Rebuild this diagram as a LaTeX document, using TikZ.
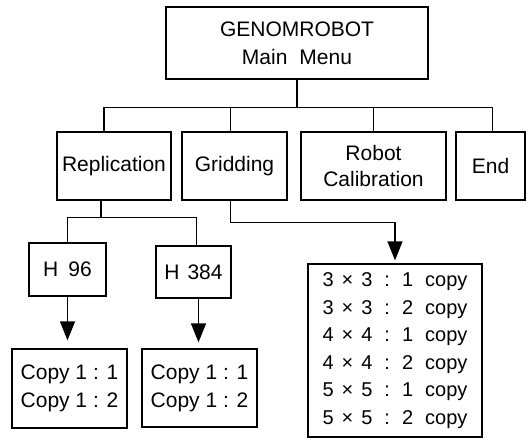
\documentclass[tikz,border=0pt]{standalone}
\usepackage{fontspec}
\setmainfont{Liberation Sans}
\usetikzlibrary{arrows.meta, positioning, calc}

\newcommand{\gridrow}[2]{#1\hspace{8pt}×\hspace{8pt}#1\hspace{12pt}:\hspace{12pt}#2\hspace{12pt}copy}

\begin{document}
\begin{tikzpicture}[
        x=1pt, y=-1pt,
        box/.style={draw, line width=1.3pt, align=center, inner sep=0pt, font=\fontsize{21}{28}\selectfont},
        link/.style={line width=1.3pt},
        arrow/.style={link, -{Triangle[length=19pt, width=15pt]}}
    ]
    \useasboundingbox (0,0) rectangle (532,439);
    % menu levels
    \node[box, minimum width=262pt, minimum height=72pt] (main) at (297,43) {GENOMROBOT\\Main\hspace{12pt}Menu};
    \node[box, minimum width=114pt, minimum height=68pt] (rep) at (114,166) {Replication};
    \node[box, minimum width=105pt, minimum height=68pt] (gridding) at (234.5,166) {Gridding};
    \node[box, minimum width=145pt, minimum height=68pt, font=\fontsize{21}{26}\selectfont] (robot) at (373.5,166) {Robot\\Calibration};
    \node[box, minimum width=69pt, minimum height=68pt] (endbox) at (490.5,166) {End};
    % replication plates
    \node[box, minimum width=77pt, minimum height=53pt] (h96) at (67.5,269.5) {H\hspace{10pt}96};
    \node[box, minimum width=75pt, minimum height=52pt] (h384) at (193.5,272) {H\hspace{8pt}384};
    \node[box, minimum width=115pt, minimum height=79pt] (copyA) at (69.5,388.5) {Copy 1 : 1\\Copy 1 : 2};
    \node[box, minimum width=115pt, minimum height=78pt] (copyB) at (199.5,388) {Copy 1 : 1\\Copy 1 : 2};
    % gridding patterns
    \node[box, minimum width=174pt, minimum height=173pt, align=left, font=\fontsize{20}{27.5}\selectfont] (grids) at (395,350.5)
        {\gridrow{3}{1}\\\gridrow{3}{2}\\\gridrow{4}{1}\\\gridrow{4}{2}\\\gridrow{5}{1}\\\gridrow{5}{2}};

    \draw[link] (main.south) -- ++(0,28) coordinate (bus);
    \draw[link] (bus) -| ($(rep.north)+(-10,0)$);
    \draw[link] (bus) -| ($(gridding.north)+(-4,0)$);
    \draw[link] (bus) -| (robot.north);
    \draw[link] (bus) -| ($(endbox.north)+(2,0)$);
    \draw[link] ($(rep.south)+(-13,0)$) -- ++(0,17) coordinate (repjoin);
    \draw[link] (h96.north) |- (repjoin) -| ($(h384.north)+(3,0)$);
    \draw[arrow, shorten >=8pt] (h96.south) -- (h96.south |- copyA.north);
    \draw[arrow, shorten >=6pt] ($(h384.south)+(5,0)$) -- ($(h384.south |- copyB.north)+(5,0)$);
    \draw[arrow, shorten >=3pt] ($(gridding.south)+(-4,0)$) -- ++(0,22) -| (grids.north);
\end{tikzpicture}
\end{document}
